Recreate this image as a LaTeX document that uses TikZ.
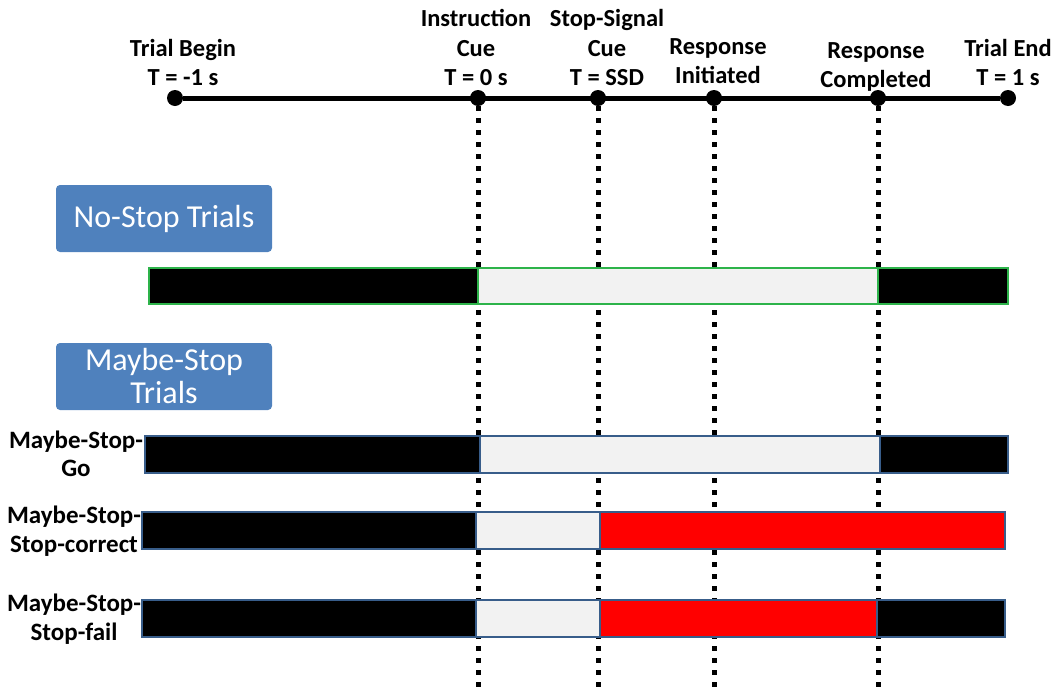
\documentclass[tikz,border=0pt]{standalone}
\usepackage{fontspec}
\setmainfont{Carlito}
\definecolor{boxblue}{HTML}{4F81BD}
\definecolor{edgeblue}{HTML}{385D8A}
\definecolor{edgegreen}{HTML}{2DB34A}
\definecolor{lightfill}{HTML}{F2F2F2}
\definecolor{stopred}{HTML}{FF0000}
\begin{document}
\begin{tikzpicture}[x=1pt,y=-1pt,
  evt/.style={circle,fill=black,inner sep=0pt,minimum size=16pt},
  toplabel/.style={font=\fontsize{24.5}{29.5}\selectfont\bfseries,align=center,inner sep=0pt,anchor=south},
  rowlabel/.style={font=\fontsize{25}{28.5}\selectfont\bfseries,align=center,inner sep=0pt},
  groupbox/.style={fill=boxblue,rounded corners=4pt,text=white,font=\fontsize{32}{33}\selectfont,align=center,minimum width=216pt,minimum height=67pt,inner sep=0pt},
  guide/.style={line width=5pt,dash pattern=on 5pt off 7pt},
  axis/.style={line width=5pt},
  greenseg/.style={line width=2.8pt,draw=edgegreen},
  blueseg/.style={line width=2.8pt,draw=edgeblue},
]
\useasboundingbox (0,0) rectangle (1055,694);
\coordinate (bot) at (0,694);

% timeline events
\node[evt] (begin) at (175,98) {};
\node[evt] (cue) at (478,98) {};
\node[evt] (ssd) at (598,98) {};
\node[evt] (init) at (714,98) {};
\node[evt] (comp) at (878,98) {};
\node[evt] (end) at (1008,98) {};
\draw[axis] (begin) -- (end);

% guide lines
\draw[guide] (cue.south) -- (cue |- bot);
\draw[guide] (ssd.south) -- (ssd |- bot);
\draw[guide] (init.south) -- (init |- bot);
\draw[guide] (comp.south) -- (comp |- bot);

% top labels
\node[toplabel] (lbegin) at (183,86) {Trial Begin\\T = -1 s};
\node[toplabel] (lcue) at (476,86) {Instruction\\Cue\\T = 0 s};
\node[toplabel] (lssd) at (607,86) {Stop-Signal\\Cue\\T = SSD};
\node[toplabel] (linit) at (718,84) {Response\\Initiated};
\node[toplabel] (lcomp) at (876,92) {Response\\Completed};
\node[toplabel] (lend) at (1008,86) {Trial End\\T = 1 s};

% group boxes
\node[groupbox] (nostop) at (164,218.5) {No-Stop Trials};
\node[groupbox] (maybestop) at (164,376.5) {Maybe-Stop\\Trials};

% No-stop bar
\draw[greenseg,fill=black] (149,268) rectangle (478,304);
\draw[greenseg,fill=lightfill] (478,268) rectangle (878,304);
\draw[greenseg,fill=black] (878,268) rectangle (1008,304);

% Maybe-stop-go
\draw[blueseg,fill=black] (145,436) rectangle (480,473);
\draw[blueseg,fill=lightfill] (480,436) rectangle (880,473);
\draw[blueseg,fill=black] (880,436) rectangle (1008,473);

% Maybe-stop-stop-correct
\draw[blueseg,fill=black] (142,512) rectangle (476,549);
\draw[blueseg,fill=lightfill] (476,512) rectangle (600,549);
\draw[blueseg,fill=stopred] (600,512) rectangle (1005,549);

% Maybe-stop-stop-fail
\draw[blueseg,fill=black] (142,600) rectangle (476,637);
\draw[blueseg,fill=lightfill] (476,600) rectangle (600,637);
\draw[blueseg,fill=stopred] (600,600) rectangle (877,637);
\draw[blueseg,fill=black] (877,600) rectangle (1005,637);

% row labels
\node[rowlabel] (rgo) at (76,454) {Maybe-Stop-\\Go};
\node[rowlabel] (rcorrect) at (74,531) {Maybe-Stop-\\Stop-correct};
\node[rowlabel] (rfail) at (74,619) {Maybe-Stop-\\Stop-fail};
\end{tikzpicture}
\end{document}
